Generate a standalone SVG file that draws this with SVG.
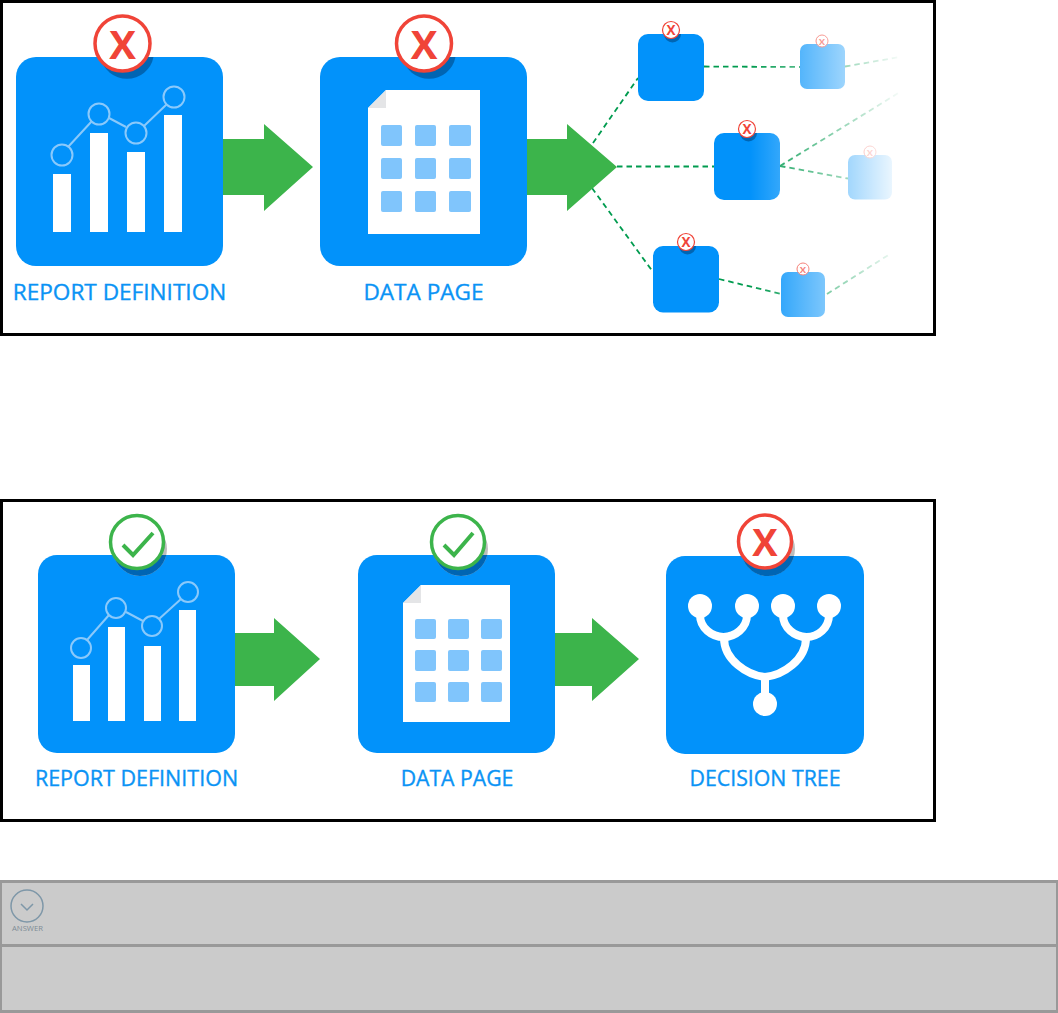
<svg xmlns="http://www.w3.org/2000/svg" width="1058" height="1013" viewBox="0 0 1058 1013">
<style>
.frame{fill:#fff;stroke:#000;stroke-width:3}
.box{fill:#0292fa}
.bar{fill:#fff}
.dot{fill:none;stroke:#8ac9fb;stroke-width:2}
.ln{fill:none;stroke:#8ac9fb;stroke-width:2}
.cell{fill:#80c5fc}
.page{fill:#fff}
.fold{fill:#e4e5e7}
.arrow{fill:#3cb44b}
.lbl{font-family:"Open Sans","Noto Sans",sans-serif;font-weight:500;fill:#0a93f5;stroke:#0a93f5;stroke-width:0.350;text-anchor:middle}
.bf{fill:#fff;stroke:#f04438}
.bg{fill:#fff;stroke:#3cb44b}
.sh{fill:#0065b3}
.shg{fill:#bdbdbd}
.x{font-family:"Open Sans","Noto Sans",sans-serif;font-weight:700;fill:#f04438;text-anchor:middle}
.chk{fill:none;stroke:#3cb44b;stroke-width:4}
.dash{fill:none;stroke:#009b4f;stroke-width:1.800;stroke-dasharray:5.500 4}
.tree{fill:none;stroke:#fff;stroke-width:8}
.panel{fill:#cbcbcb;stroke:#999;stroke-width:3}
</style>
<defs>
<linearGradient id="fade" gradientUnits="userSpaceOnUse" x1="750" y1="0" x2="905" y2="0">
<stop offset="0" stop-color="#fff" stop-opacity="0"/>
<stop offset="1" stop-color="#fff" stop-opacity="1"/>
</linearGradient>
</defs>

<rect class="frame" x="1.500" y="1.500" width="933" height="333"/>
<rect class="frame" x="1.500" y="500.500" width="933" height="320"/>

<g id="connectors">
<path class="dash" d="M593 143L638 78"/>
<path class="dash" d="M617 166.500L714 166.500"/>
<path class="dash" d="M592 188L653 272"/>
<path class="dash" d="M704 66.500L800 67"/>
<path class="dash" d="M845 66.500L900 57"/>
<path class="dash" d="M780 166L900 92"/>
<path class="dash" d="M780 166L848 178.500"/>
<path class="dash" d="M719 279L781 294"/>
<path class="dash" d="M827 294L890 254"/>
</g>

<g id="arrow-top-1"><path class="arrow" d="M223 139H264V124L313 167L264 211V195H223Z"/></g>
<g id="arrow-top-2"><path class="arrow" d="M527 139H567V124L617 167L567 211V195H527Z"/></g>
<g id="arrow-bottom-1"><path class="arrow" d="M235 633H274V618L320 659L274 701V686H235Z"/></g>
<g id="arrow-bottom-2"><path class="arrow" d="M555 633H592V618L639 659L592 701V686H555Z"/></g>

<g id="top-report-definition">
<rect class="box" x="16" y="57" width="207" height="209" rx="20"/>
<rect class="bar" x="53" y="174" width="18" height="58"/>
<rect class="bar" x="90" y="133" width="18" height="99"/>
<rect class="bar" x="127" y="152" width="18" height="80"/>
<rect class="bar" x="164" y="115" width="18" height="117"/>
<path class="ln" d="M68 147L92 121M109 118L126 127M144 126L167 104"/>
<circle class="dot" cx="62" cy="155" r="10.500"/>
<circle class="dot" cx="99" cy="114" r="10.500"/>
<circle class="dot" cx="136" cy="133" r="10.500"/>
<circle class="dot" cx="174" cy="97" r="10.500"/>
<path class="sh" d="M100.500 57A27 27 0 0 0 153.500 57Z"/>
<circle class="bf" cx="122.500" cy="43.500" r="27.500" stroke-width="3.500"/>
<text class="x" x="122.500" y="59" font-size="40">X</text>
<text class="lbl" x="119.500" y="300" font-size="22.600">REPORT DEFINITION</text>
</g>

<g id="top-data-page">
<rect class="box" x="320" y="57" width="207" height="209" rx="20"/>
<path class="page" d="M386 90H480V234H368V108Z"/>
<path class="fold" d="M386 90V108H368Z"/>
<rect class="cell" x="381" y="125" width="21" height="21" rx="2"/>
<rect class="cell" x="415" y="125" width="21" height="21" rx="2"/>
<rect class="cell" x="449" y="125" width="22" height="21" rx="2"/>
<rect class="cell" x="381" y="158" width="21" height="21" rx="2"/>
<rect class="cell" x="415" y="158" width="21" height="21" rx="2"/>
<rect class="cell" x="449" y="158" width="22" height="21" rx="2"/>
<rect class="cell" x="381" y="191" width="21" height="21" rx="2"/>
<rect class="cell" x="415" y="191" width="21" height="21" rx="2"/>
<rect class="cell" x="449" y="191" width="22" height="21" rx="2"/>
<path class="sh" d="M402.500 57A27 27 0 0 0 455.500 57Z"/>
<circle class="bf" cx="424" cy="43.500" r="27.500" stroke-width="3.500"/>
<text class="x" x="424" y="59" font-size="40">X</text>
<text class="lbl" x="423.500" y="300" font-size="22.600">DATA PAGE</text>
</g>

<g id="node-a">
<rect class="box" x="638" y="34" width="66" height="67" rx="10"/>
<path class="sh" d="M664 34A8.500 8.500 0 0 0 681 34Z"/>
<circle class="bf" cx="671" cy="30" r="8.500" stroke-width="1.200"/>
<text class="x" x="671" y="34.800" font-size="13.500">X</text>
</g>
<g id="node-b">
<rect class="box" x="714" y="133" width="66" height="67" rx="10"/>
<path class="sh" d="M740 133A8.500 8.500 0 0 0 757 133Z"/>
<circle class="bf" cx="747" cy="129" r="8.500" stroke-width="1.200"/>
<text class="x" x="747" y="133.800" font-size="13.500">X</text>
</g>
<g id="node-c">
<rect class="box" x="653" y="246" width="66" height="66.500" rx="10"/>
<path class="sh" d="M679 246A8.500 8.500 0 0 0 696 246Z"/>
<circle class="bf" cx="686" cy="242" r="8.500" stroke-width="1.200"/>
<text class="x" x="686" y="246.800" font-size="13.500">X</text>
</g>
<g id="node-d">
<rect class="box" x="800" y="44" width="45" height="45" rx="7"/>
<circle class="bf" cx="822" cy="41" r="6" stroke-width="1"/>
<text class="x" x="822" y="44.500" font-size="9.500">X</text>
</g>
<g id="node-e">
<rect class="box" x="848" y="155" width="44" height="44.500" rx="7"/>
<circle class="bf" cx="870" cy="152" r="6" stroke-width="1"/>
<text class="x" x="870" y="155.500" font-size="9.500">X</text>
</g>
<g id="node-f">
<rect class="box" x="781" y="272" width="44" height="45" rx="7"/>
<circle class="bf" cx="803" cy="269" r="6" stroke-width="1"/>
<text class="x" x="803" y="272.500" font-size="9.500">X</text>
</g>
<rect id="fade-out" x="750" y="3" width="183" height="330" fill="url(#fade)"/>

<g id="bottom-report-definition">
<rect class="box" x="38" y="555" width="197" height="198" rx="19"/>
<rect class="bar" x="73" y="665" width="17" height="56"/>
<rect class="bar" x="108" y="627" width="17" height="94"/>
<rect class="bar" x="144" y="646" width="17" height="75"/>
<rect class="bar" x="179" y="610" width="17" height="111"/>
<path class="ln" d="M87 640L109 615M126 612L143 621M159 619L181 599"/>
<circle class="dot" cx="81" cy="648" r="10"/>
<circle class="dot" cx="116" cy="608" r="10"/>
<circle class="dot" cx="152" cy="626" r="10"/>
<circle class="dot" cx="188" cy="592" r="10"/>
<circle class="shg" cx="140" cy="549" r="27"/>
<path class="sh" d="M113.700 555A27 27 0 0 0 166.300 555Z"/>
<circle class="bg" cx="137" cy="542" r="26.500" stroke-width="3.500"/>
<path class="chk" d="M123 545L133 555L153 533"/>
<text class="lbl" x="136.500" y="786" font-size="21.500">REPORT DEFINITION</text>
</g>

<g id="bottom-data-page">
<rect class="box" x="358" y="555" width="197" height="198" rx="19"/>
<path class="page" d="M421 585H510V722H403V603Z"/>
<path class="fold" d="M421 585V603H403Z"/>
<rect class="cell" x="415" y="619" width="21" height="20" rx="2"/>
<rect class="cell" x="448" y="619" width="21" height="20" rx="2"/>
<rect class="cell" x="481" y="619" width="21" height="20" rx="2"/>
<rect class="cell" x="415" y="650" width="21" height="21" rx="2"/>
<rect class="cell" x="448" y="650" width="21" height="21" rx="2"/>
<rect class="cell" x="481" y="650" width="21" height="21" rx="2"/>
<rect class="cell" x="415" y="682" width="21" height="20" rx="2"/>
<rect class="cell" x="448" y="682" width="21" height="20" rx="2"/>
<rect class="cell" x="481" y="682" width="21" height="20" rx="2"/>
<circle class="shg" cx="461" cy="549" r="27"/>
<path class="sh" d="M434.700 555A27 27 0 0 0 487.300 555Z"/>
<circle class="bg" cx="458" cy="542" r="26.500" stroke-width="3.500"/>
<path class="chk" d="M444 545L454 555L473 533"/>
<text class="lbl" x="457" y="786" font-size="21.200">DATA PAGE</text>
</g>

<g id="bottom-decision-tree">
<rect class="box" x="666" y="556" width="198" height="198" rx="19"/>
<path class="tree" d="M700 615C700 628 712 637 723.500 637C735 637 747 628 747 615"/>
<path class="tree" d="M783 615C783 628 795 637 806.500 637C818 637 829 628 829 615"/>
<path class="tree" d="M724 638C724 660 747 675 765 677C783 675 806 660 806 638"/>
<path class="tree" d="M765 677V700"/>
<circle cx="700" cy="606" r="12" fill="#fff"/>
<circle cx="747" cy="606" r="12" fill="#fff"/>
<circle cx="783" cy="606" r="12" fill="#fff"/>
<circle cx="829" cy="606" r="12" fill="#fff"/>
<circle cx="765" cy="704" r="12" fill="#fff"/>
<circle class="shg" cx="768" cy="549" r="27"/>
<path class="sh" d="M741.900 556A27 27 0 0 0 794.100 556Z"/>
<circle class="bf" cx="765" cy="541.500" r="26.500" stroke-width="3.500"/>
<text class="x" x="765" y="556" font-size="38">X</text>
<text class="lbl" x="765" y="786" font-size="21.300">DECISION TREE</text>
</g>

<g id="answer-panel">
<rect class="panel" x="0.500" y="881.500" width="1057" height="64"/>
<circle cx="27" cy="906" r="16" fill="none" stroke="#7e97a8" stroke-width="1.500"/>
<path d="M21 904L27 910L33 904" fill="none" stroke="#7e97a8" stroke-width="1.500"/>
<text x="27.500" y="931" font-family="'Open Sans',sans-serif" font-size="7.700" fill="#7e8c96" text-anchor="middle">ANSWER</text>
</g>
<g id="empty-panel">
<rect class="panel" x="0.500" y="945.500" width="1057" height="66"/>
</g>
</svg>
